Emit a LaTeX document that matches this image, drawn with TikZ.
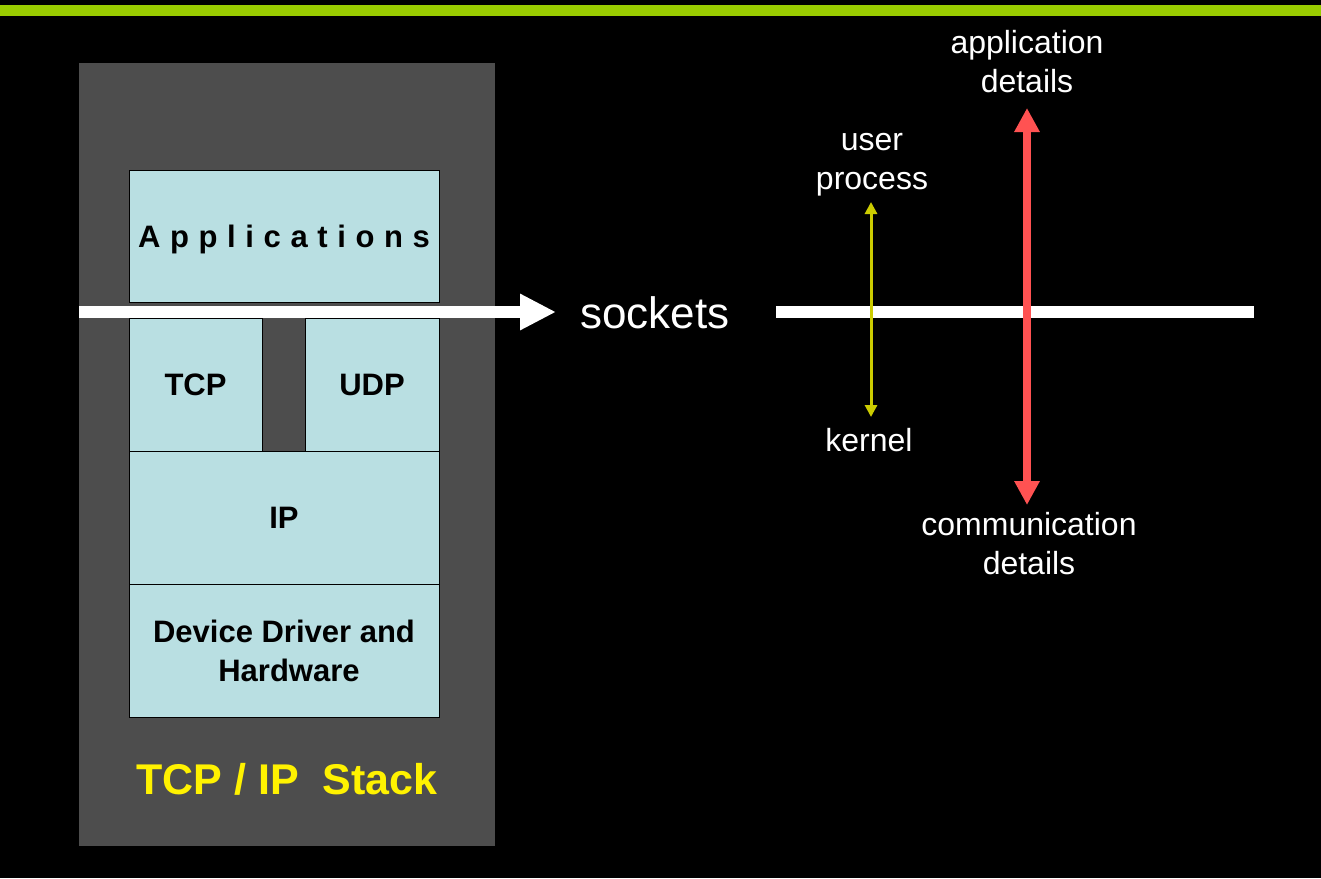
\documentclass[tikz,border=0pt]{standalone}
\usepackage{fontspec}
\setmainfont{Liberation Sans}
\usetikzlibrary{arrows.meta}
\definecolor{bargreen}{RGB}{153,204,0}
\definecolor{panelgray}{RGB}{77,77,77}
\definecolor{layerteal}{RGB}{185,223,226}
\definecolor{kernyellow}{RGB}{204,204,0}
\definecolor{detailred}{RGB}{255,82,82}
\tikzset{
  layer/.style={draw=black, fill=layerteal, line width=1pt, align=center,
    font=\fontsize{31}{39}\selectfont\bfseries, inner sep=0pt},
  label/.style={text=white, align=center, font=\fontsize{32}{39}\selectfont},
}
\begin{document}
\begin{tikzpicture}[x=1pt,y=-1pt]
    \fill[black] (0,0) rectangle (1321,878);
    \useasboundingbox (0,0) rectangle (1321,878);
    \fill[bargreen] (0,5) rectangle (1321,16);
    \fill[panelgray] (79,63) rectangle (495,846);
    % protocol layers
    \node[layer, minimum width=310pt, minimum height=132pt, text depth=0pt] (apps) at (284,236)
      {\addfontfeature{LetterSpace=31}Applications};
    \node[layer, minimum width=133pt, minimum height=133pt] (tcp) at (195.5,384.5) {TCP};
    \node[layer, minimum width=134pt, minimum height=133pt] (udp) at (372,384.5) {UDP};
    \node[layer, minimum width=310pt, minimum height=133pt] (ip) at (284,517.5) {IP};
    \node[layer, minimum width=310pt, minimum height=133pt] (dev) at (284,650.5)
      {Device Driver and\\\hspace*{10pt}Hardware};
    \node[text=yellow, font=\fontsize{43}{50}\selectfont\bfseries] (stack) at (287,779)
      {TCP / IP\ \ Stack};
    % sockets boundary
    \coordinate (arrowstart) at (79,312);
    \coordinate (arrowtip) at (556,312);
    \draw[white, line width=12pt, -{Triangle[length=36pt,width=34pt]}] (arrowstart) -- (arrowtip);
    \node[text=white, font=\fontsize{44}{50}\selectfont] (sockets) at (655,313) {sockets};
    \coordinate (lineleft) at (776,312);
    \coordinate (lineright) at (1254,312);
    \draw[white, line width=12pt] (lineleft) -- (lineright);
    % labels
    \node[label] (user) at (872,165) {user\\process};
    \node[label] (kernel) at (869,440) {kernel};
    \node[label] (appdet) at (1027,62) {application\\details};
    \node[label] (comdet) at (1029,544) {communication\\details};
    % arrows
    \coordinate (usertip) at (871,202);
    \coordinate (kerneltip) at (871,417);
    \draw[kernyellow, line width=3pt, {Triangle[length=12pt,width=12pt]}-{Triangle[length=12pt,width=12pt]}]
      (usertip) -- (kerneltip);
    \coordinate (apptip) at (1027,108);
    \coordinate (comtip) at (1027,505);
    \draw[detailred, line width=8pt, {Triangle[length=24pt,width=24pt]}-{Triangle[length=24pt,width=24pt]}]
      (apptip) -- (comtip);
\end{tikzpicture}
\end{document}
